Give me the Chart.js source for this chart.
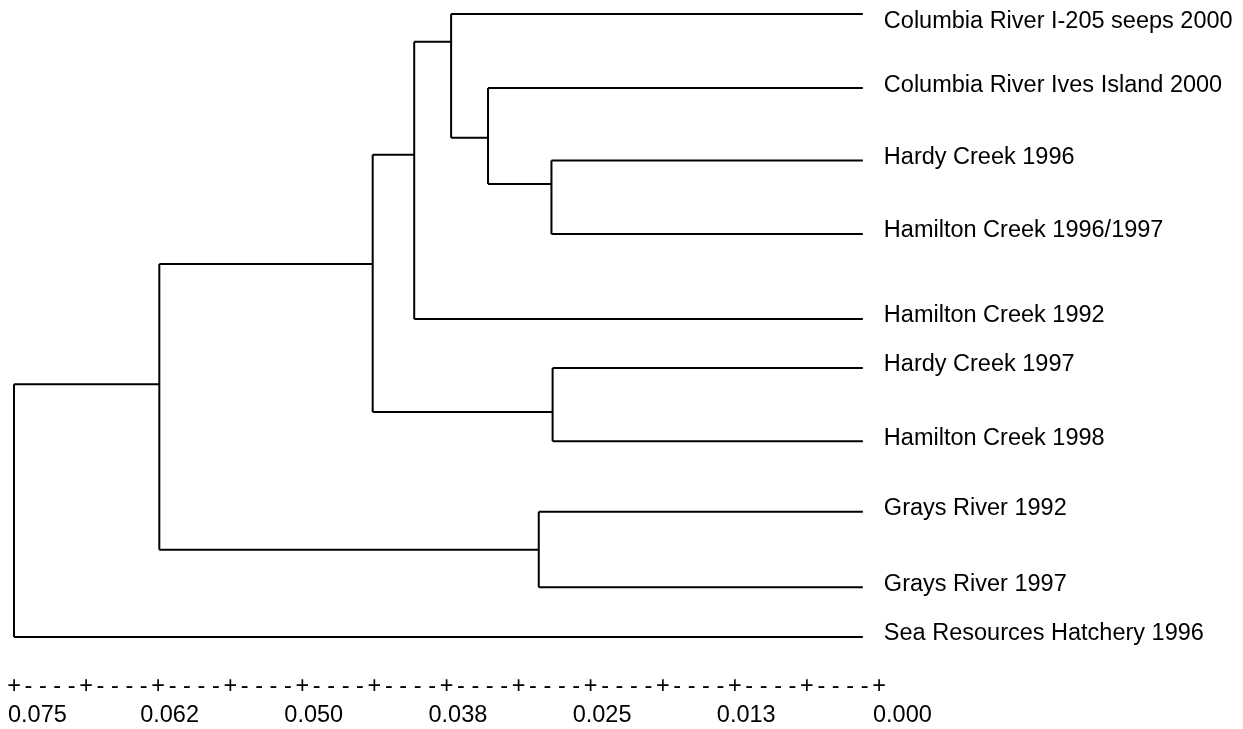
<!DOCTYPE html>
<html>
<head>
<meta charset="utf-8">
<title>Dendrogram</title>
<script src="https://cdn.jsdelivr.net/npm/chart.js@4"></script>
<style>
    html, body { margin: 0; padding: 0; background: #fff; }
    canvas { display: block; }
</style>
</head>
<body>
<canvas id="treeChart" width="1243" height="729"></canvas>
<script>
// Leaf names, top to bottom
const leafNames = [
    'Columbia River I-205 seeps 2000',
    'Columbia River Ives Island 2000',
    'Hardy Creek 1996',
    'Hamilton Creek 1996/1997',
    'Hamilton Creek 1992',
    'Hardy Creek 1997',
    'Hamilton Creek 1998',
    'Grays River 1992',
    'Grays River 1997',
    'Sea Resources Hatchery 1996'
];

// Row of each leaf (in leaf-spacing units)
const leafRows = [0, 1.01, 2.0, 3.0, 4.16, 4.83, 5.83, 6.79, 7.82, 8.5];

// Distance where the leaf branches stop
const leafTip = 0.0014;

// Merges: node index = number of leaves + position in these arrays
const mergeLeft    = [2, 5, 7, 1, 0, 14, 15, 16, 17];
const mergeRight   = [3, 6, 8, 10, 13, 4, 11, 12, 9];
const mergeHeights = [0.0284, 0.0283, 0.0295, 0.0339, 0.0371, 0.0403, 0.0439, 0.0624, 0.0750];
const mergeRows    = [2.32, 5.43, 7.31, 1.69, 0.38, 1.92, 3.41, 5.05, 6.0];

// Distance axis
const axisMax = 0.075;
const axisStep = 0.00625;
const axisLabels = ['0.075', '0.062', '0.050', '0.038', '0.025', '0.013', '0.000'];

const FONT_SIZE = 23.5;
const FONT = FONT_SIZE + 'px "Liberation Sans", Arial, sans-serif';

function nodeHeight(i) {
    return i < leafNames.length ? leafTip : mergeHeights[i - leafNames.length];
}

function nodeRow(i) {
    return i < leafNames.length ? leafRows[i] : mergeRows[i - leafNames.length];
}

// Build the elbow segments of the tree
const segments = [];
mergeLeft.forEach((left, k) => {
    const h = mergeHeights[k];
    const right = mergeRight[k];
    segments.push([{ x: h, y: nodeRow(left) }, { x: h, y: nodeRow(right) }]);
    [left, right].forEach(child => {
        segments.push([{ x: h, y: nodeRow(child) }, { x: nodeHeight(child), y: nodeRow(child) }]);
    });
});

// Leaf names and the text-style distance axis
const textPlugin = {
    id: 'dendroText',
    afterDraw(chart) {
        const ctx = chart.ctx;
        const xs = chart.scales.x;
        const ys = chart.scales.y;
        ctx.save();
        ctx.fillStyle = '#000';
        ctx.font = FONT;
        ctx.textBaseline = 'middle';

        ctx.textAlign = 'left';
        leafNames.forEach((name, i) => {
            // keep the top label inside the canvas
            const y = Math.max(ys.getPixelForValue(leafRows[i]) - 3, FONT_SIZE * 0.9);
            ctx.fillText(name, xs.getPixelForValue(leafTip) + 21, y);
        });

        const axisY = chart.chartArea.bottom + 50;
        const count = Math.round(axisMax / axisStep);
        ctx.textAlign = 'center';
        for (let i = 0; i <= count; i++) {
            const v = axisMax - i * axisStep;
            const px = xs.getPixelForValue(v);
            ctx.fillText('+', px, axisY);
            if (i < count) {
                const next = xs.getPixelForValue(v - axisStep);
                for (let d = 1; d <= 4; d++) {
                    ctx.fillText('-', px + (next - px) * d / 5, axisY);
                }
            }
        }

        ctx.textAlign = 'left';
        axisLabels.forEach((label, j) => {
            const px = xs.getPixelForValue(axisMax - j * 2 * axisStep);
            const isEnd = j === 0 || j === axisLabels.length - 1;
            ctx.fillText(label, px - (isEnd ? 6 : 18), axisY + 29);
        });
        ctx.restore();
    }
};

const canvas = document.getElementById('treeChart');
new Chart(canvas, {
    type: 'scatter',
    data: {
        datasets: segments.map(seg => ({
            data: seg,
            showLine: true,
            borderColor: '#000',
            borderWidth: 2,
            pointRadius: 0,
            pointHoverRadius: 0,
            clip: false
        }))
    },
    options: {
        responsive: false,
        animation: false,
        devicePixelRatio: 1,
        layout: {
            padding: { left: 14, right: 364, top: 14, bottom: 92 }
        },
        plugins: {
            legend: { display: false },
            tooltip: { enabled: false }
        },
        scales: {
            x: { type: 'linear', min: 0, max: axisMax, reverse: true, display: false },
            y: { type: 'linear', min: 0, max: 8.5, reverse: true, display: false }
        }
    },
    plugins: [textPlugin]
});
</script>
</body>
</html>
